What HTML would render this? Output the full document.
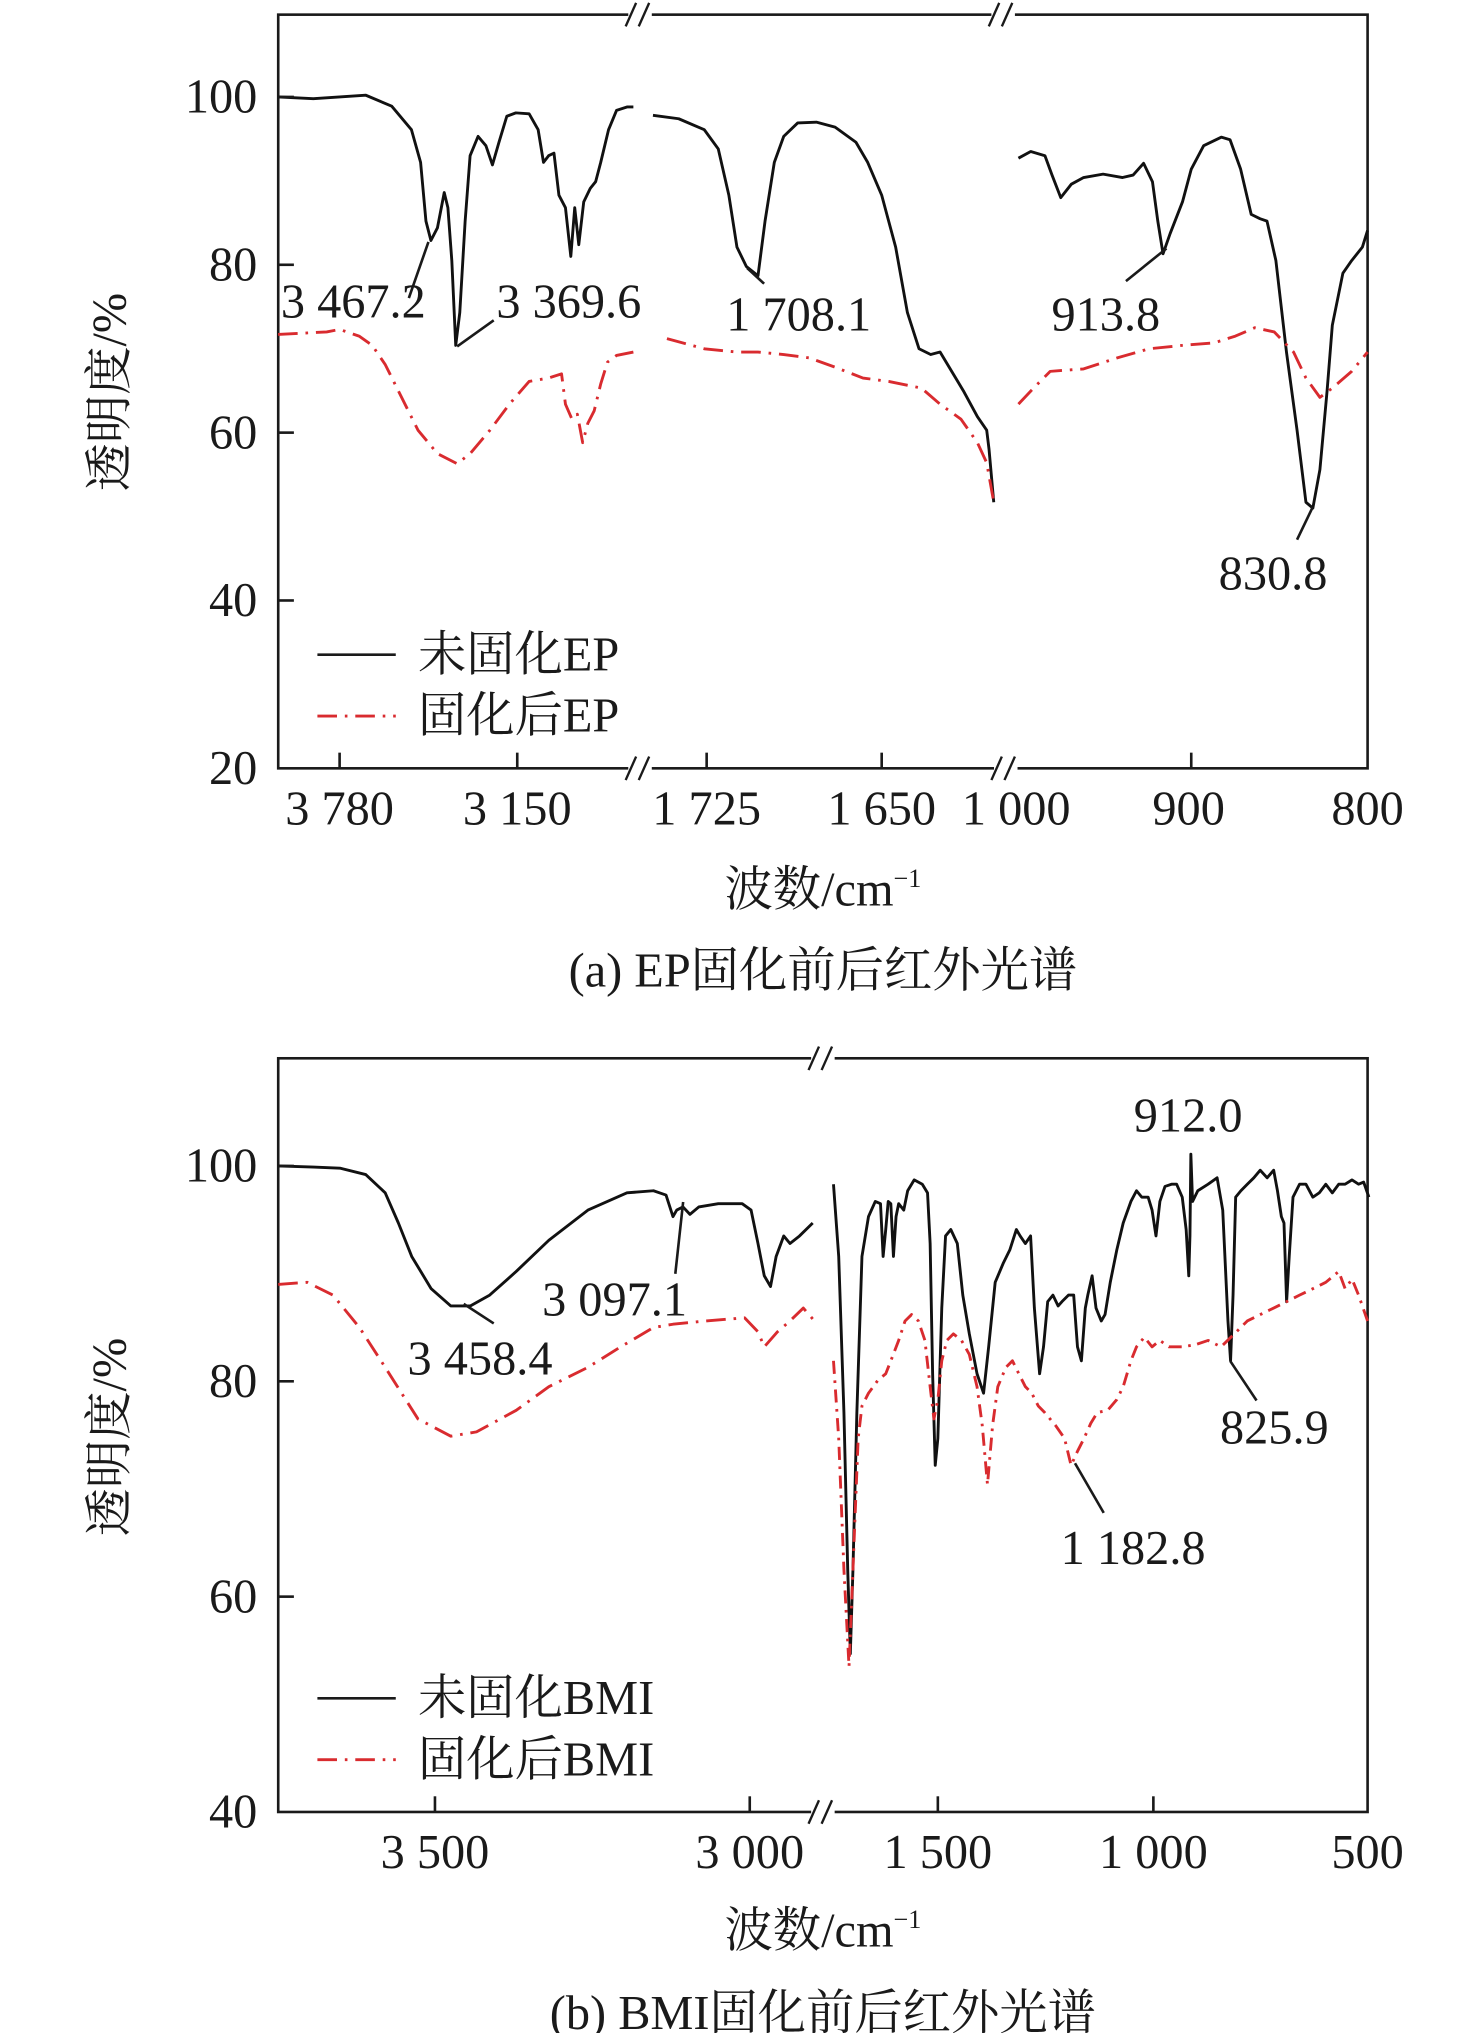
<!DOCTYPE html>
<html><head><meta charset="utf-8"><style>
html,body{margin:0;padding:0;background:#fff}
svg{display:block}
text{font-family:"Liberation Serif","Noto Serif CJK SC",serif;fill:#1a1a1a}
</style></head><body>
<svg id="chart" width="1476" height="2033" viewBox="0 0 1130 1556" xmlns="http://www.w3.org/2000/svg">
<g id="g"></g>
</svg>
<script>
// ===== Panel (a) EP data =====
const epUncured1=[[3998,100],[3873,99.8],[3687,100.2],[3595,98.9],[3525,96.1],[3493,92.2],[3474,85.2],[3456,82.9],[3433,84.4],[3409,88.6],[3396,86.8],[3382,80.5],[3368,70.4],[3354,74.3],[3335,85.2],[3317,93.0],[3289,95.3],[3261,94.2],[3238,91.9],[3215,94.6],[3187,97.7],[3155,98.1],[3108,98.0],[3076,96.1],[3057,92.2],[3039,93.0],[3020,93.3],[3002,88.3],[2979,86.8],[2960,81.0],[2946,86.8],[2932,82.4],[2914,87.5],[2891,89.1],[2872,89.9],[2854,92.2],[2826,96.1],[2798,98.4],[2761,98.8],[2738,98.8]];
const epCured1=[[3998,71.7],[3826,72.0],[3780,72.3],[3711,71.5],[3664,70.4],[3618,68.1],[3572,65.0],[3502,60.3],[3433,57.5],[3363,56.3],[3317,57.5],[3247,60.3],[3178,63.4],[3108,66.1],[3039,66.5],[2993,67.0],[2979,63.4],[2956,61.6],[2937,62.2],[2918,58.8],[2900,61.1],[2877,62.6],[2854,65.8],[2830,68.4],[2798,69.2],[2738,69.6]];
const epUncured2=[[1748,97.8],[1737,97.4],[1726,96.1],[1720,93.8],[1715.5,88.3],[1712,82.1],[1708,79.8],[1703,78.7],[1700,85.2],[1696,92.2],[1692,95.3],[1686,96.9],[1678,97.0],[1670,96.4],[1661,94.6],[1656,92.2],[1650,88.3],[1644,82.1],[1639,74.3],[1634,70.0],[1629,69.3],[1625,69.6],[1620,67.3],[1615,65.0],[1609,61.9],[1605,60.3],[1604,58.0],[1602,51.7]];
const epCured2=[[1742,71.2],[1726,70.0],[1712,69.6],[1703,69.6],[1692,69.3],[1681,68.9],[1670,67.8],[1658,66.5],[1647,66.1],[1633,65.3],[1625,63.4],[1616,61.6],[1609,58.8],[1605,56.4],[1602,51.7]];
const epUncured3=[[998,92.7],[991,93.5],[983,93.0],[979,90.7],[974,88.0],[968,89.6],[961,90.4],[950,90.8],[939,90.4],[933,90.7],[927,92.1],[922,89.9],[919,85.2],[916,81.3],[912,83.7],[905,87.5],[900,91.4],[893,94.2],[883,95.2],[878,94.9],[872,91.4],[866,86.0],[861,85.5],[857,85.2],[852,80.5],[846,69.6],[840,60.3],[835,51.7],[831,51.0],[827,55.6],[823,65.0],[820,72.8],[814,79.0],[809,80.5],[803,82.1],[800,84.1]];
const epCured3=[[998,63.4],[989,65.4],[980,67.3],[961,67.6],[942,68.9],[924,70.0],[905,70.4],[887,70.7],[875,71.5],[864,72.5],[853,72.0],[842,69.6],[835,66.5],[827,64.2],[820,65.3],[809,67.3],[800,69.6]];
const epYTicks=[20,40,60,80,100];
// ===== Panel (b) BMI data =====
const bmiUncured1=[[3749,100],[3693,99.9],[3651,99.8],[3610,99.2],[3579,97.5],[3558,94.7],[3537,91.6],[3506,88.6],[3475,87.0],[3444,87.0],[3413,88.0],[3371,90.2],[3319,93.1],[3257,95.9],[3195,97.5],[3153,97.7],[3133,97.3],[3122,95.3],[3116,95.9],[3106,96.2],[3095,95.5],[3081,96.2],[3050,96.5],[3012,96.5],[2998,95.9],[2987,92.8],[2977,89.8],[2967,88.8],[2958,91.6],[2946,93.5],[2936,92.8],[2921,93.5],[2900,94.7]];
const bmiCured1=[[3749,89.0],[3703,89.2],[3662,88.0],[3620,85.0],[3579,81.3],[3527,76.5],[3475,74.9],[3434,75.3],[3371,77.3],[3319,79.5],[3257,81.3],[3205,83.2],[3153,85.0],[3122,85.3],[3070,85.6],[3008,85.9],[2987,84.6],[2977,83.2],[2956,84.6],[2936,85.6],[2915,86.8],[2900,85.8]];
const bmiUncured2=[[1742,98.3],[1730,91.6],[1718,77.1],[1709,62.5],[1703,54.7],[1697,62.5],[1688,77.1],[1676,91.6],[1661,95.3],[1645,96.7],[1633,96.5],[1627,91.6],[1621,94.1],[1615,96.7],[1609,96.5],[1603,91.6],[1597,95.3],[1591,96.5],[1579,95.9],[1570,97.7],[1555,98.7],[1536,98.3],[1524,97.5],[1518,92.8],[1512,80.7],[1506,72.2],[1500,74.7],[1491,86.8],[1482,93.5],[1470,94.1],[1455,92.8],[1442,88.0],[1427,84.4],[1409,80.7],[1394,78.9],[1382,83.2],[1367,89.2],[1348,91.0],[1333,92.2],[1318,94.1],[1309,93.5],[1297,92.8],[1285,93.5],[1276,86.8],[1264,80.7],[1255,83.2],[1245,87.4],[1233,88.0],[1221,87.0],[1212,87.4],[1197,88.0],[1185,88.0],[1176,83.2],[1167,81.9],[1158,86.8],[1152,88.0],[1142,89.8],[1133,86.8],[1121,85.6],[1112,86.2],[1100,89.2],[1085,92.2],[1070,94.7],[1052,96.7],[1039,97.7],[1027,97.1],[1012,97.1],[1003,95.9],[994,93.5],[985,96.7],[973,98.1],[958,98.3],[946,98.3],[933,97.1],[924,94.1],[918,89.8],[915,93.5],[913,101.1],[909,96.7],[897,97.7],[873,98.3],[852,98.9],[839,95.9],[827,85.6],[821,81.9],[815,88.0],[809,97.1],[797,97.7],[782,98.3],[767,98.9],[752,99.6],[736,98.9],[721,99.6],[712,97.7],[703,95.3],[697,94.7],[691,87.4],[685,91.6],[676,97.1],[661,98.3],[646,98.3],[630,97.1],[615,97.5],[600,98.3],[585,97.5],[570,98.3],[555,98.3],[539,98.7],[524,98.3],[512,98.5],[500,97.1]];
const bmiCured2=[[1742,81.9],[1730,74.7],[1718,62.5],[1706,53.5],[1697,62.5],[1685,74.7],[1676,77.7],[1661,78.9],[1639,80.1],[1621,80.7],[1609,81.9],[1591,83.8],[1576,85.6],[1561,86.2],[1545,85.6],[1530,83.8],[1518,79.5],[1509,76.5],[1500,78.3],[1491,81.9],[1479,83.8],[1464,84.4],[1445,83.8],[1427,82.5],[1409,79.5],[1397,75.9],[1385,70.4],[1373,75.9],[1361,79.5],[1342,81.3],[1327,81.9],[1312,80.7],[1297,79.5],[1282,78.9],[1267,77.7],[1252,77.1],[1227,75.9],[1206,74.7],[1191,72.2],[1176,73.5],[1161,74.7],[1145,76.1],[1130,77.1],[1106,77.3],[1085,78.3],[1070,79.5],[1052,81.9],[1039,83.2],[1021,84.1],[1003,83.2],[985,83.8],[964,83.2],[933,83.2],[903,83.4],[873,83.8],[843,83.2],[812,84.4],[782,85.6],[752,86.2],[721,86.8],[691,87.4],[661,88.0],[630,88.6],[600,89.2],[570,90.2],[555,88.6],[539,89.5],[524,88.0],[503,85.6]];
const bmiYTicks=[40,60,80,100];

const NS='http://www.w3.org/2000/svg';
const G=document.getElementById('g');
const FS=37;
function mk(tag,attrs,parent){const e=document.createElementNS(NS,tag);for(const k in attrs)e.setAttribute(k,attrs[k]);(parent||G).appendChild(e);return e;}
function txt(x,y,s,size,anchor,name){const t=mk('text',{x:x,y:y,'font-size':size,'text-anchor':anchor||'start'});t.textContent=s;


return t;}
function seg(w0,w1,p0,p1){return w=>p0+(w0-w)/(w0-w1)*(p1-p0);}
function path(data,xf,yf,color,dash,name){const d=data.map((p,i)=>(i?'L':'M')+xf(p[0]).toFixed(1)+' '+yf(p[1]).toFixed(1)).join(' ');
const e=mk('path',{d:d,fill:'none',stroke:color,'stroke-width':2.2,'stroke-linejoin':'round'});if(dash)e.setAttribute('stroke-dasharray',dash);

}
function line(x1,y1,x2,y2,name,w){const e=mk('line',{x1,y1,x2,y2,stroke:'#1a1a1a','stroke-width':w||2});

}
function brk(x,y){mk('rect',{x:x-9,y:y-4,width:18,height:8,fill:'#fff'});line(x-11,y+9,x-3,y-9,'axis-break',1.8);line(x-1,y+9,x+7,y-9,'axis-break',1.8);}
const RED='#d92b2f',DD='15 6 2 6';

// ---- Panel a ----
const yA=v=>588-(v-20)*6.425;
const xa1=seg(3780,3150,260,396),xa2=seg(1725,1650,541,675),xa3=seg(900,800,912,1047);
const fr=mk('rect',{x:213,y:11,width:834,height:577,fill:'none',stroke:'#1a1a1a','stroke-width':2});


path(epUncured1,xa1,yA,'#111',null,'ep-uncured-line');
path(epUncured2,xa2,yA,'#111',null,'ep-uncured-line');
path(epUncured3,xa3,yA,'#111',null,'ep-uncured-line');
path(epCured1,xa1,yA,RED,DD,'ep-cured-line');
path(epCured2,xa2,yA,RED,DD,'ep-cured-line');
path(epCured3,xa3,yA,RED,DD,'ep-cured-line');
epYTicks.forEach(v=>{if(v>20)line(213,yA(v),225,yA(v),'y-tick');txt(197,yA(v)+12,String(v),FS,'end','y-tick-label');});
[[3780,xa1],[3150,xa1],[1725,xa2],[1650,xa2],[900,xa3]].forEach(t=>{line(t[1](t[0]),588,t[1](t[0]),576,'x-tick');});
[[260,'3 780'],[396,'3 150'],[541,'1 725'],[675,'1 650'],[778,'1 000'],[910,'900'],[1047,'800']].forEach(t=>txt(t[0],631,t[1],FS,'middle','x-tick-label'));
brk(490,11);brk(768,11);brk(490,588);brk(770,588);
// annotations a
line(313,228,328,185,'leader-3467');txt(215,243,'3 467.2',FS,'start','peak-label-3467');
line(350,265,378,245,'leader-3369');txt(380,243,'3 369.6',FS,'start','peak-label-3369');
line(572,205,585,217,'leader-1708');txt(556,253,'1 708.1',FS,'start','peak-label-1708');
line(862,215,893,190,'leader-913');txt(805,253,'913.8',FS,'start','peak-label-913');
line(993,413,1005,388,'leader-830');txt(933,451,'830.8',FS,'start','peak-label-830');
line(243,501,303,501,'legend-uncured-swatch');txt(320,513,'未固化EP',FS,'start','legend-uncured-label');
mk('line',{x1:243,y1:548,x2:303,y2:548,stroke:RED,'stroke-width':2.2,'stroke-dasharray':'15 6 2 6'});
txt(320,560,'固化后EP',FS,'start','legend-cured-label');
const ta=txt(630,693,'波数/cm',FS,'middle','x-axis-title-a');const s1=mk('tspan',{'font-size':20,dy:-14},ta);s1.textContent='−1';
txt(630,755,'(a) EP固化前后红外光谱',FS,'middle','caption-a');
const yt1=txt(0,0,'透明度/%',FS,'middle','y-axis-title-a');yt1.setAttribute('transform','translate(96,300) rotate(-90)');

// ---- Panel b ----
const yB=v=>1387-(v-40)*(577/70);
const xb1=seg(3500,3000,333,574),xb2=seg(1500,1000,718,883);
const fr2=mk('rect',{x:213,y:810,width:834,height:577,fill:'none',stroke:'#1a1a1a','stroke-width':2});


path(bmiUncured1,xb1,yB,'#111',null,'bmi-uncured-line');
path(bmiUncured2,xb2,yB,'#111',null,'bmi-uncured-line');
path(bmiCured1,xb1,yB,RED,DD,'bmi-cured-line');
path(bmiCured2,xb2,yB,RED,'10 5 2 5','bmi-cured-line');
bmiYTicks.forEach(v=>{if(v>40)line(213,yB(v),225,yB(v),'y-tick');txt(197,yB(v)+12,String(v),FS,'end','y-tick-label');});
[[3500,xb1],[3000,xb1],[1500,xb2],[1000,xb2]].forEach(t=>line(t[1](t[0]),1387,t[1](t[0]),1375,'x-tick'));
[[333,'3 500'],[574,'3 000'],[718,'1 500'],[883,'1 000'],[1047,'500']].forEach(t=>txt(t[0],1430,t[1],FS,'middle','x-tick-label'));
brk(630,810);brk(630,1387);
line(355,998,378,1013,'leader-3458');txt(312,1052,'3 458.4',FS,'start','peak-label-3458');
line(517,975,523,920,'leader-3097');txt(415,1007,'3 097.1',FS,'start','peak-label-3097');
txt(868,866,'912.0',FS,'start','peak-label-912');
line(942,1042,962,1072,'leader-825');txt(934,1105,'825.9',FS,'start','peak-label-825');
line(823,1120,845,1158,'leader-1182');txt(812,1197,'1 182.8',FS,'start','peak-label-1182');
line(243,1300,303,1300,'legend-uncured-swatch');txt(320,1312,'未固化BMI',FS,'start','legend-uncured-label');
mk('line',{x1:243,y1:1347,x2:303,y2:1347,stroke:RED,'stroke-width':2.2,'stroke-dasharray':'15 6 2 6'});
txt(320,1359,'固化后BMI',FS,'start','legend-cured-label');
const tb=txt(630,1490,'波数/cm',FS,'middle','x-axis-title-b');const s2=mk('tspan',{'font-size':20,dy:-14},tb);s2.textContent='−1';
txt(630,1553,'(b) BMI固化前后红外光谱',FS,'middle','caption-b');
const yt2=txt(0,0,'透明度/%',FS,'middle','y-axis-title-b');yt2.setAttribute('transform','translate(96,1100) rotate(-90)');
</script>
</body></html>
